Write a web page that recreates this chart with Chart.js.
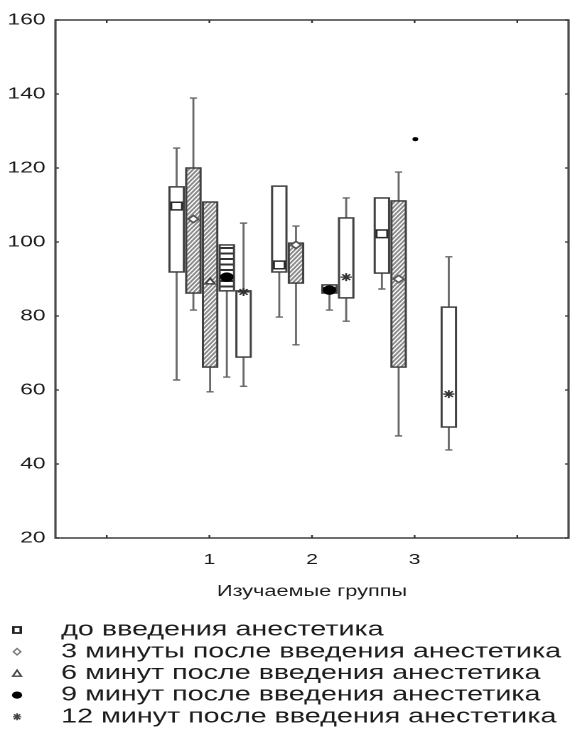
<!DOCTYPE html>
<html><head><meta charset="utf-8">
<script src="https://cdn.jsdelivr.net/npm/chart.js@4.4.1/dist/chart.umd.min.js"></script>
<style>
html,body{margin:0;padding:0;background:#fff;overflow:hidden;}
#wrap{width:401px;height:729px;transform:scaleX(1.4214);transform-origin:0 0;}
</style></head><body>
<div id="wrap"><canvas id="c" width="401" height="729"></canvas></div>
<script>
// ---- data ----
const groups = [1, 2, 3];
const xTickValues = [0, 1, 2, 3, 4];
const xTickLabels = {1: '1', 2: '2', 3: '3'};
const yTickValues = [20, 40, 60, 80, 100, 120, 140, 160];
const axisTitle = 'Изучаемые группы';
const seriesNames = [
  'до введения анестетика',
  '3 минуты после введения анестетика',
  '6 минут после введения анестетика',
  '9 минут после введения анестетика',
  '12 минут после введения анестетика'
];
// rows = series, columns = groups 1..3
const minVals = [
  [62.7, 79.7, 87.3],
  [81.6, 72.2, 47.6],
  [59.5, null, 127.8],
  [63.5, 81.6, null],
  [61.0, 78.6, 43.8]
];
const q1Vals = [
  [91.9, 91.9, 91.6],
  [86.2, 88.9, 66.2],
  [66.2, null, 127.8],
  [86.8, 86.2, null],
  [68.9, 84.9, 50.0]
];
const medVals = [
  [109.7, 93.8, 102.2],
  [106.2, 99.2, 90.0],
  [89.2, null, 127.8],
  [90.5, 87.0, null],
  [86.5, 90.5, 58.9]
];
const q3Vals = [
  [114.9, 115.1, 111.9],
  [120.0, 99.7, 111.1],
  [110.8, null, 127.8],
  [99.2, 88.4, null],
  [86.8, 106.5, 82.4]
];
const maxVals = [
  [125.4, 115.1, 111.9],
  [138.9, 104.3, 118.9],
  [110.8, null, 127.8],
  [99.2, 88.4, null],
  [105.1, 111.9, 96.0]
];

// ---- styling ----
const FONT = 'Liberation Sans, Arial, sans-serif';
const TEXT = '#1c1c1c';
const fills = ['plain', 'hatch', 'hatch', 'stripes', 'plain'];
const pointStyles = ['rect', 'rectRot', 'triangle', 'circle', 'star'];
const pointRadii = [5.4, 3.6, 3.8, 4, 4];
const pointFills = ['#ffffff', '#ffffff', '#ffffff', '#000000', '#333333'];
const pointBorders = ['#2a2a2a', '#555555', '#444444', '#000000', '#333333'];
const slotStep = 0.163, slotShift = 0.007, boxHalf = 0.07, capHalf = 0.035;
function xOf(s, g) { return groups[g] + (s - 2) * slotStep + slotShift; }
function degenerate(s, g) { return minVals[s][g] !== null && minVals[s][g] === maxVals[s][g] && q1Vals[s][g] === q3Vals[s][g]; }

const boxPlugin = {
  id: 'boxes',
  beforeDatasetsDraw(chart) {
    const {ctx, scales: {x, y}} = chart;
    ctx.save();
    for (let s = 0; s < seriesNames.length; s++) {
      for (let g = 0; g < groups.length; g++) {
        if (q1Vals[s][g] === null || degenerate(s, g)) continue;
        const cx = x.getPixelForValue(xOf(s, g));
        const L = x.getPixelForValue(xOf(s, g) - boxHalf);
        const R = x.getPixelForValue(xOf(s, g) + boxHalf);
        const cL = x.getPixelForValue(xOf(s, g) - capHalf);
        const cR = x.getPixelForValue(xOf(s, g) + capHalf);
        const yMin = y.getPixelForValue(minVals[s][g]);
        const yQ1 = y.getPixelForValue(q1Vals[s][g]);
        const yQ3 = y.getPixelForValue(q3Vals[s][g]);
        const yMax = y.getPixelForValue(maxVals[s][g]);
        ctx.strokeStyle = '#686868';
        ctx.lineWidth = 1.4;
        if (maxVals[s][g] > q3Vals[s][g]) {
          ctx.beginPath(); ctx.moveTo(cx, yQ3); ctx.lineTo(cx, yMax);
          ctx.moveTo(cL, yMax); ctx.lineTo(cR, yMax); ctx.stroke();
        }
        if (minVals[s][g] < q1Vals[s][g]) {
          ctx.beginPath(); ctx.moveTo(cx, yQ1); ctx.lineTo(cx, yMin);
          ctx.moveTo(cL, yMin); ctx.lineTo(cR, yMin); ctx.stroke();
        }
        ctx.fillStyle = '#ffffff';
        ctx.fillRect(L, yQ3, R - L, yQ1 - yQ3);
        ctx.save();
        ctx.beginPath(); ctx.rect(L, yQ3, R - L, yQ1 - yQ3); ctx.clip();
        if (fills[s] === 'hatch') {
          ctx.strokeStyle = '#8a8a8a'; ctx.lineWidth = 1.5;
          const slope = 1.42, step = 4.4;
          ctx.beginPath();
          for (let yy = yQ3 - 40; yy < yQ1 + 40; yy += step) {
            ctx.moveTo(L, yy); ctx.lineTo(R, yy - (R - L) * slope);
          }
          ctx.stroke();
        } else if (fills[s] === 'stripes') {
          ctx.strokeStyle = '#333333'; ctx.lineWidth = 2;
          ctx.beginPath();
          for (let yy = yQ3 + 3; yy < yQ1; yy += 5.5) {
            ctx.moveTo(L, yy); ctx.lineTo(R, yy);
          }
          ctx.stroke();
        }
        ctx.restore();
        ctx.strokeStyle = '#404040'; ctx.lineWidth = 1.5;
        ctx.strokeRect(L, yQ3, R - L, yQ1 - yQ3);
      }
    }
    ctx.restore();
  },
  afterDraw(chart) {
    const {ctx, chartArea: a, scales: {x, y}} = chart;
    ctx.save();
    ctx.strokeStyle = '#4a4a4a'; ctx.lineWidth = 1.6;
    ctx.strokeRect(a.left, a.top, a.right - a.left, a.bottom - a.top);
    ctx.lineWidth = 1.2; ctx.strokeStyle = '#333';
    ctx.beginPath();
    yTickValues.forEach(v => {
      const py = y.getPixelForValue(v);
      ctx.moveTo(a.left, py); ctx.lineTo(a.left + 2.5, py);
      ctx.moveTo(a.right, py); ctx.lineTo(a.right - 2.5, py);
    });
    xTickValues.forEach(v => {
      const px = x.getPixelForValue(v);
      ctx.moveTo(px, a.bottom); ctx.lineTo(px, a.bottom - 3);
      ctx.moveTo(px, a.top); ctx.lineTo(px, a.top + 3);
    });
    ctx.stroke();
    // legend
    const lx = 12, tx = 43, ly0 = 630, lstep = 21.7;
    ctx.font = '20.2px ' + FONT;
    ctx.textBaseline = 'middle';
    ctx.textAlign = 'left';
    seriesNames.forEach((name, s) => {
      const ly = ly0 + s * lstep;
      ctx.lineWidth = 1.5;
      if (s === 0) {
        ctx.strokeStyle = '#222'; ctx.lineWidth = 1.8;
        ctx.strokeRect(lx - 2.6, ly - 3, 5.2, 6);
      } else if (s === 1) {
        ctx.strokeStyle = '#777'; ctx.lineWidth = 1.2;
        ctx.beginPath(); ctx.moveTo(lx, ly - 3.2); ctx.lineTo(lx + 2.6, ly); ctx.lineTo(lx, ly + 3.2); ctx.lineTo(lx - 2.6, ly); ctx.closePath(); ctx.stroke();
      } else if (s === 2) {
        ctx.strokeStyle = '#444'; ctx.lineWidth = 1.3;
        ctx.beginPath(); ctx.moveTo(lx, ly - 3.2); ctx.lineTo(lx + 3, ly + 2.8); ctx.lineTo(lx - 3, ly + 2.8); ctx.closePath(); ctx.stroke();
      } else if (s === 3) {
        ctx.fillStyle = '#000';
        ctx.beginPath(); ctx.arc(lx, ly, 3.6, 0, Math.PI * 2); ctx.fill();
      } else {
        ctx.strokeStyle = '#444'; ctx.lineWidth = 1.2;
        ctx.beginPath();
        ctx.moveTo(lx - 3, ly); ctx.lineTo(lx + 3, ly);
        ctx.moveTo(lx, ly - 3.5); ctx.lineTo(lx, ly + 3.5);
        ctx.moveTo(lx - 2.2, ly - 2.5); ctx.lineTo(lx + 2.2, ly + 2.5);
        ctx.moveTo(lx + 2.2, ly - 2.5); ctx.lineTo(lx - 2.2, ly + 2.5);
        ctx.stroke();
      }
      ctx.fillStyle = TEXT;
      ctx.fillText(name, tx, ly);
    });
    ctx.restore();
  }
};

const datasets = seriesNames.map((name, s) => {
  const data = [];
  groups.forEach((gv, g) => {
    if (medVals[s][g] !== null) data.push({x: xOf(s, g), y: medVals[s][g], g: g});
  });
  return {
    label: name,
    data: data,
    pointStyle: c => degenerate(s, c.raw.g) ? 'circle' : pointStyles[s],
    pointRadius: c => degenerate(s, c.raw.g) ? 1.3 : pointRadii[s],
    backgroundColor: c => degenerate(s, c.raw.g) ? '#000' : pointFills[s],
    borderColor: c => degenerate(s, c.raw.g) ? '#000' : pointBorders[s],
    borderWidth: s === 4 ? 1.3 : 1.5,
    showLine: false,
    clip: false
  };
});

new Chart(document.getElementById('c'), {
  type: 'scatter',
  data: {datasets: datasets},
  plugins: [boxPlugin],
  options: {
    responsive: false,
    animation: false,
    devicePixelRatio: 2,
    layout: {autoPadding: false, padding: {left: 0, right: 1, top: 20, bottom: 121}},
    plugins: {legend: {display: false}, tooltip: {enabled: false}},
    scales: {
      x: {
        type: 'linear', min: -0.5, max: 4.5,
        afterBuildTicks: sc => { sc.ticks = xTickValues.map(v => ({value: v})); },
        afterFit: sc => { sc.height = 70; sc.paddingLeft = 0; sc.paddingRight = 0; },
        ticks: {
          callback: v => (xTickLabels[v] !== undefined ? xTickLabels[v] : ''),
          font: {family: FONT, size: 15}, color: TEXT, padding: 13,
          maxRotation: 0, autoSkip: false
        },
        grid: {display: false, drawTicks: false},
        border: {display: false},
        title: {display: true, text: axisTitle, font: {family: FONT, size: 15.3}, color: TEXT, padding: {top: 0, bottom: 7}}
      },
      y: {
        min: 20, max: 160,
        afterBuildTicks: sc => { sc.ticks = yTickValues.map(v => ({value: v})); },
        afterFit: sc => { sc.width = 39; },
        ticks: {font: {family: FONT, size: 16}, color: TEXT, padding: 7},
        grid: {display: false, drawTicks: false},
        border: {display: false}
      }
    }
  }
});
</script>
</body></html>
